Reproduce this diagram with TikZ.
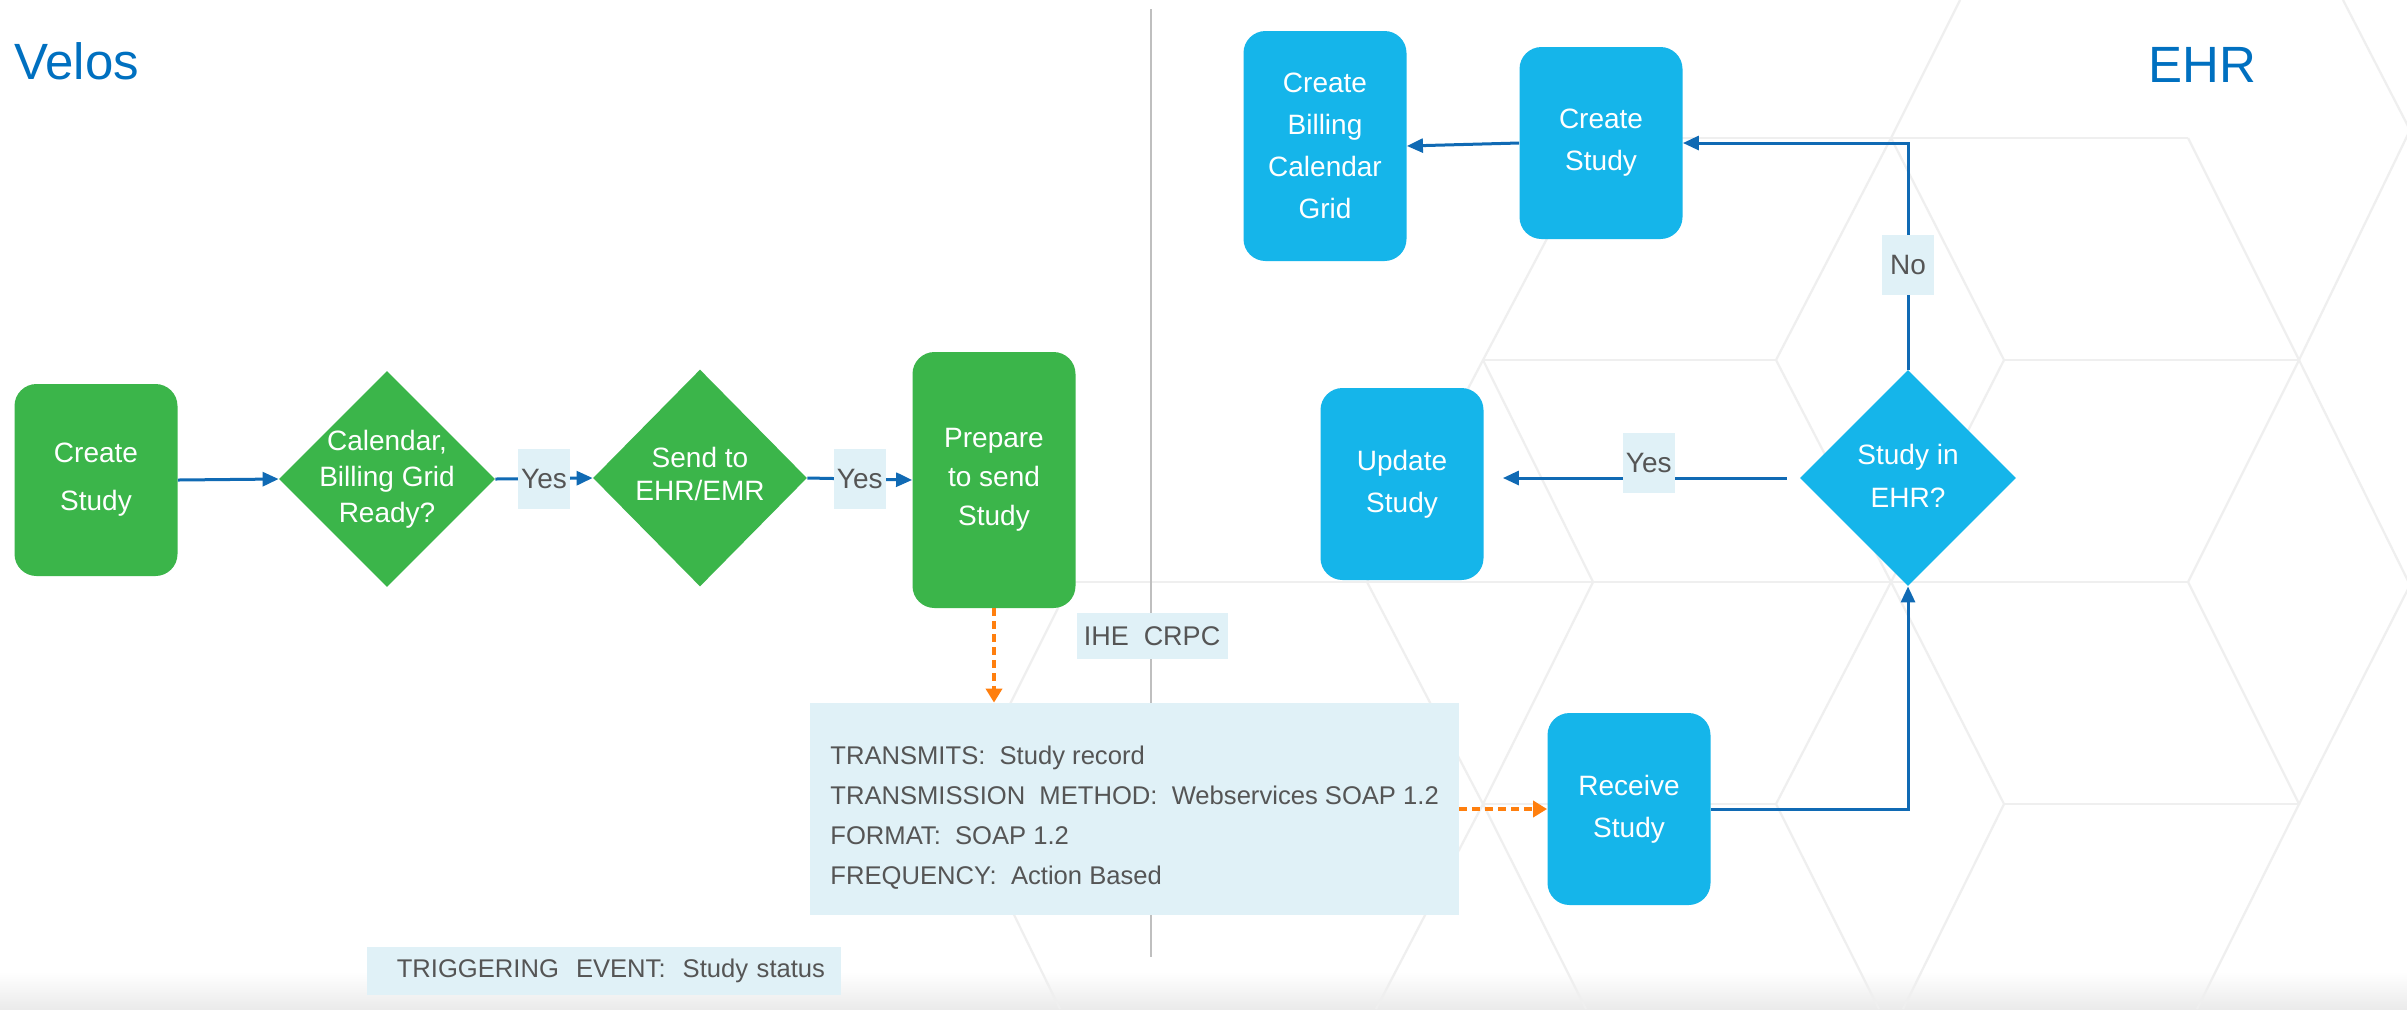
\documentclass[tikz,border=0pt]{standalone}
\usepackage{fontspec}
\setmainfont{Liberation Sans}
\usetikzlibrary{arrows.meta,shapes.geometric}
\definecolor{velosgreen}{RGB}{59,181,74}
\definecolor{ehrblue}{RGB}{21,181,234}
\definecolor{linkblue}{RGB}{16,106,180}
\definecolor{titleblue}{RGB}{0,112,192}
\definecolor{msgorange}{RGB}{255,127,14}
\definecolor{tagfill}{RGB}{224,241,247}
\definecolor{tagtext}{RGB}{85,85,85}
\definecolor{hexgray}{RGB}{239,239,239}
\newcommand{\qtext}[1]{\makebox[0pt]{\raisebox{-0.25em}[0pt][0pt]{\begin{tabular}{@{}c@{}}#1\end{tabular}}}}
\tikzset{
  stepbox/.style={rectangle, rounded corners=11pt, minimum width=81.5pt, minimum height=96pt, inner sep=0pt, text=white, align=center, font=\fontsize{14}{21}\selectfont},
  decision/.style={diamond, minimum width=108pt, minimum height=108pt, inner sep=0pt, text=white, font=\fontsize{14}{18}\selectfont},
  tagbox/.style={fill=tagfill, text=tagtext, inner sep=1pt},
  tag/.style={tagbox, minimum width=26pt, minimum height=30pt, font=\fontsize{14}{14}\selectfont},
  link/.style={draw=linkblue, line width=1.5pt, -{Triangle[length=8pt,width=7pt]}},
  msg/.style={draw=msgorange, line width=1.8pt, dash pattern=on 4pt off 2.5pt, -{Triangle[length=7pt,width=8pt]}},
  hexline/.style={draw=hexgray, line width=1.1pt},
  title/.style={text=titleblue, font=\fontsize{25.5}{25.5}\selectfont, inner sep=0pt}
}
\begin{document}
\begin{tikzpicture}[x=0.5pt,y=-0.5pt]
\useasboundingbox (0,0) rectangle (2407,1009);
\fill[white] (0,0) rectangle (2407,1009);
\shade[top color=white, bottom color=black!8] (0,972) rectangle (2407,1009);
\draw[hexline] (1600,138) -- (1483,360) -- (1593,582) -- (1483,804) -- (1586,1009);
\draw[hexline] (1483,360) -- (1367,582) -- (1483,804) -- (1376,1009);
\draw[hexline] (1071,582) -- (960,804) -- (1060,1009);
\draw[hexline] (1960,0) -- (1891,138) -- (1776,360) -- (1891,582) -- (1776,804) -- (1879,1009);
\draw[hexline] (1891,138) -- (2004,360) -- (1891,582) -- (2004,804) -- (1903,1009);
\draw[hexline] (2188,138) -- (2299,360) -- (2188,582) -- (2299,804) -- (2197,1009);
\draw[hexline] (2343,0) -- (2410,130) -- (2299,360) -- (2410,585) -- (2299,804);
\draw[hexline] (1600,138) -- (2188,138);
\draw[hexline] (1483,360) -- (1776,360) (2004,360) -- (2299,360);
\draw[hexline] (1071,582) -- (2188,582);
\draw[hexline] (1483,804) -- (1776,804) (2004,804) -- (2299,804);
\draw[draw=black!25, line width=1.2pt] (1151,9) -- (1151,957);
\node[title, anchor=base west] (velos) at (14,79) {Velos};
\node[title, anchor=base west] (ehr) at (2148,82) {EHR};
\node[stepbox, fill=velosgreen, font=\fontsize{14}{24}\selectfont] (vstudy) at (96,480) {Create\\Study};
\node[decision, fill=velosgreen] (vready) at (387,479) {\qtext{Calendar,\\Billing Grid\\Ready?}};
\node[decision, fill=velosgreen, minimum width=107pt, minimum height=108.5pt, font=\fontsize{14}{16.5}\selectfont] (vsend) at (700,478) {\qtext{Send to\\EHR/EMR}};
\node[stepbox, fill=velosgreen, minimum height=128pt, font=\fontsize{14}{19.5}\selectfont] (vprep) at (994,480) {Prepare\\to send\\Study};
\node[stepbox, fill=ehrblue, minimum height=115pt] (egrid) at (1325,146) {Create\\Billing\\Calendar\\Grid};
\node[stepbox, fill=ehrblue] (estudy) at (1601,143) {Create\\Study};
\node[stepbox, fill=ehrblue] (eupdate) at (1402,484) {Update\\Study};
\node[decision, fill=ehrblue, font=\fontsize{14}{21.5}\selectfont] (eask) at (1908,478) {\qtext{Study in\\EHR?}};
\node[stepbox, fill=ehrblue] (ercv) at (1629,809) {Receive\\Study};
\node[tagbox, anchor=west, align=left, inner xsep=10pt, minimum height=106pt, font=\fontsize{12.8}{20}\selectfont] (details) at (810,809) {\rule{0pt}{18pt}TRANSMITS:~ Study record\\TRANSMISSION~ METHOD:~ Webservices SOAP 1.2\\FORMAT:~ SOAP 1.2\\FREQUENCY:~ Action Based};
\node[tagbox, minimum width=75.5pt, minimum height=23pt, font=\fontsize{13.5}{13.5}\selectfont] (crpc) at (1152,636) {IHE~ CRPC};
\node[tagbox, minimum width=237pt, minimum height=24pt, text width=221pt, align=right, font=\fontsize{12.8}{12.8}\selectfont] (trigger) at (604,971) {TRIGGERING~ EVENT:~ Study status};
\draw[link] (vstudy.east) -- (vready.west);
\draw[link] (vready.east) -- node[tag]{Yes} (vsend.west);
\draw[link] (vsend.east) -- node[tag]{Yes} (vprep.west);
\draw[msg] (vprep.south) -- (vprep.south |- details.north);
\draw[msg] (details.east) -- (ercv.west);
\draw[link] (ercv.east) -| (eask.south);
\draw[link] (eask.north) |- node[tag, pos=0.23]{No} (estudy.east);
\draw[link] (estudy.west) -- (egrid.east);
\draw[link, shorten <=6.5pt, shorten >=9.5pt] (eask.west) -- node[tag, xshift=3.5pt, yshift=7.5pt]{Yes} (eask.west -| eupdate.east);
\end{tikzpicture}
\end{document}
